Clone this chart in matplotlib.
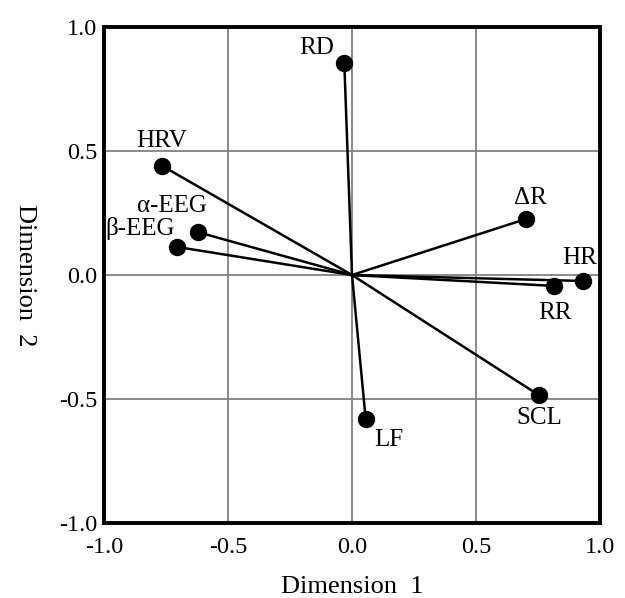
import matplotlib.pyplot as plt

# loadings
labels = ["RD", "HRV", "α-EEG", "β-EEG", "ΔR", "HR", "RR", "SCL", "LF"]
dim1 = [-0.031, -0.767, -0.622, -0.704, 0.702, 0.930, 0.815, 0.753, 0.055]
dim2 = [0.854, 0.441, 0.173, 0.113, 0.226, -0.024, -0.044, -0.484, -0.579]

# label offsets in pixels (dx, dy), dy positive = up
offsets = [(-28, 15), (0, 25), (-26, 26), (-37, 18), (4, 21), (-3, 23), (1, -27), (1, -23), (23, -21)]

ticks = [-1.0, -0.5, 0.0, 0.5, 1.0]
tick_labels = ["-1.0", "-0.5", "0.0", "0.5", "1.0"]

plt.rcParams["font.family"] = ["Liberation Serif", "DejaVu Serif"]

fig = plt.figure(figsize=(6.25, 5.98), dpi=100)
ax = fig.add_axes([0.1664, 0.1254, 0.7936, 0.8294])

ax.set_xlim(-1, 1)
ax.set_ylim(-1, 1)
ax.set_xticks(ticks)
ax.set_yticks(ticks)
ax.set_xticklabels(tick_labels)
ax.set_yticklabels(tick_labels)
ax.tick_params(length=0, labelsize=17.5)
ax.tick_params(axis="x", pad=10)
ax.tick_params(axis="y", pad=5)
ax.grid(True, color="#808080", linewidth=1.3)
ax.set_axisbelow(True)
for s in ax.spines.values():
    s.set_linewidth(2.8)

for x, y in zip(dim1, dim2):
    ax.plot([0, x], [0, y], color="black", linewidth=1.8, zorder=3)
ax.plot(dim1, dim2, "o", color="black", markersize=11.5, zorder=4)

for lab, x, y, (dx, dy) in zip(labels, dim1, dim2, offsets):
    ax.annotate(lab, (x, y), xytext=(dx * 0.72, dy * 0.72), textcoords="offset points",
                ha="center", va="center", fontsize=18, zorder=5)

ax.set_xlabel("Dimension  1", fontsize=19, labelpad=13)
ax.set_ylabel("Dimension  2", fontsize=19, rotation=270, va="center", labelpad=24)

fig.savefig("out.png", dpi=100)
